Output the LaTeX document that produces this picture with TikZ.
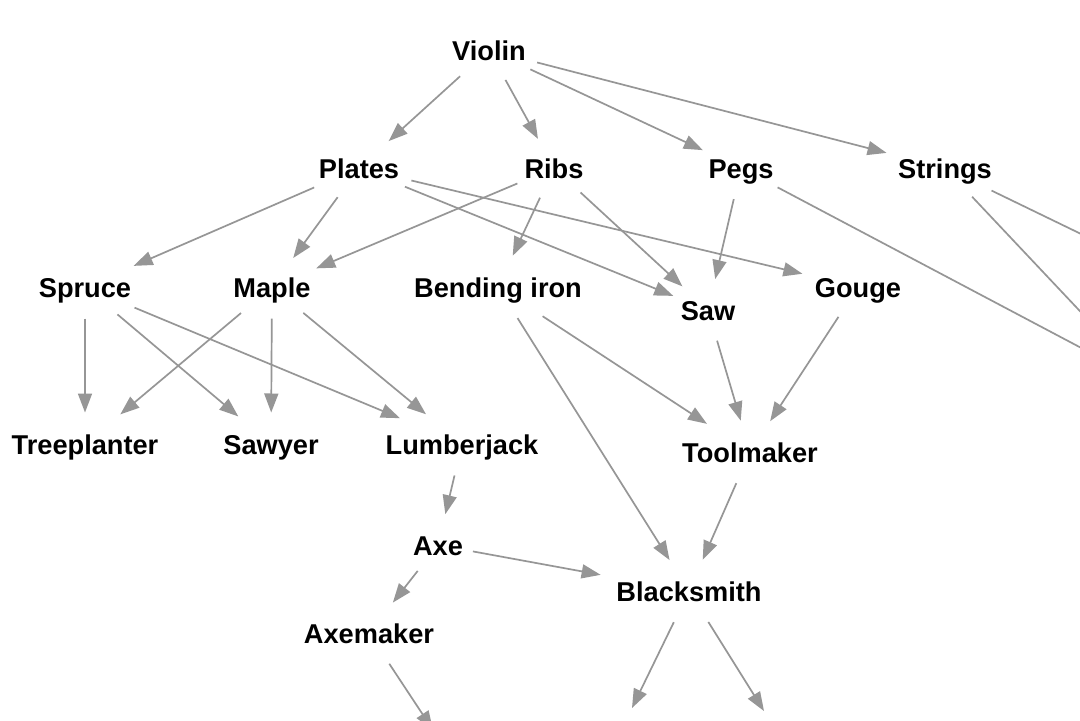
\documentclass[tikz,border=0pt]{standalone}
\usepackage{fontspec}
\setmainfont{Liberation Sans}
\usetikzlibrary{shapes.geometric,arrows.meta}
\definecolor{edgegray}{RGB}{150,150,150}

\begin{document}
\begin{tikzpicture}[x=0.5pt, y=-0.5pt,
    item/.style={ellipse, inner xsep=0pt, inner ysep=6pt, text height=10pt, text depth=0pt,
      font=\fontsize{13.6}{16}\selectfont\bfseries},
    dep/.style={-{Triangle[length=9.5pt,width=7pt]}, draw=edgegray, line width=0.85pt}]
    \clip (0,0) rectangle (1080,720);
    \fill[white] (0,0) rectangle (1080,720);

    \node[item] (violin) at (489,50) {Violin};

    \node[item] (plates) at (359,168) {Plates};
    \node[item] (ribs) at (554,168) {Ribs};
    \node[item] (pegs) at (741,168) {Pegs};
    \node[item] (strings) at (945,168) {Strings};

    \node[item] (spruce) at (85,287) {Spruce};
    \node[item] (maple) at (272,287) {Maple};
    \node[item] (bendiron) at (498,287) {Bending iron};
    \node[item] (saw) at (708,310) {Saw};
    \node[item] (gouge) at (858,287) {Gouge};

    \node[item] (treeplanter) at (85,444) {Treeplanter};
    \node[item] (sawyer) at (271,444) {Sawyer};
    \node[item] (lumberjack) at (462,444) {Lumberjack};
    \node[item] (toolmaker) at (750,452) {Toolmaker};

    \node[item] (axe) at (438,545) {Axe};
    \node[item] (blacksmith) at (689,591) {Blacksmith};
    \node[item] (axemaker) at (369,633) {Axemaker};

    % ends that run out of the picture
    \coordinate (pegsout) at (1140,379);
    \coordinate (strout1) at (1110,343);
    \coordinate (strout2) at (1110,248);
    \coordinate (axmout) at (433,730);
    \coordinate (bsout1) at (632,708);
    \coordinate (bsout2) at (764,711);

    \draw[dep] (violin) -- (plates);
    \draw[dep] (violin) -- (ribs);
    \draw[dep] (violin) -- (pegs);
    \draw[dep] (violin) -- (strings);

    \draw[dep] (plates) -- (spruce);
    \draw[dep] (plates) -- (maple);
    \draw[dep] (plates) -- (saw);
    \draw[dep] (plates) -- (gouge);

    \draw[dep] (ribs) -- (maple);
    \draw[dep] (ribs) -- (bendiron);
    \draw[dep] (ribs) -- (saw);

    \draw[dep] (pegs) -- (saw);
    \draw[dep] (pegs) -- (pegsout);
    \draw[dep] (strings) -- (strout1);
    \draw[dep] (strings) -- (strout2);

    \draw[dep] (spruce) -- (treeplanter);
    \draw[dep] (spruce) -- (sawyer);
    \draw[dep] (spruce) -- (lumberjack);
    \draw[dep] (maple) -- (treeplanter);
    \draw[dep] (maple) -- (sawyer);
    \draw[dep] (maple) -- (lumberjack);

    \draw[dep] (bendiron) -- (blacksmith);
    \draw[dep] (bendiron) -- (toolmaker);
    \draw[dep] (saw) -- (toolmaker);
    \draw[dep] (gouge) -- (toolmaker);

    \draw[dep] (lumberjack) -- (axe);
    \draw[dep] (toolmaker) -- (blacksmith);
    \draw[dep] (axe) -- (blacksmith);
    \draw[dep] (axe) -- (axemaker);

    \draw[dep] (blacksmith) -- (bsout1);
    \draw[dep] (blacksmith) -- (bsout2);
    \draw[dep] (axemaker) -- (axmout);
\end{tikzpicture}
\end{document}
